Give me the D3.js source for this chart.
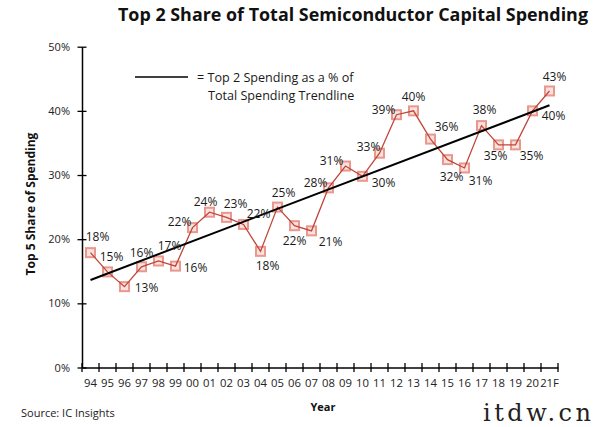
<!DOCTYPE html>
<html><head><meta charset="utf-8">
<script src="https://cdn.jsdelivr.net/npm/d3@7/dist/d3.min.js"></script>
<style>
body{margin:0;background:#fff;}
svg{display:block;font-family:"Open Sans",sans-serif;}
</style></head>
<body><svg id="c" width="597" height="427"></svg>
<script>
// ---- data ----
const years = ["94","95","96","97","98","99","00","01","02","03","04","05","06","07","08","09","10","11","12","13","14","15","16","17","18","19","20","21F"];
const shares = [17.9,14.9,12.6,15.7,16.6,15.8,21.8,24.2,23.4,22.3,18.1,25.0,22.1,21.3,28.0,31.4,29.8,33.4,39.4,40.0,35.6,32.4,31.1,37.7,34.7,34.7,40.0,43.1];
const yTicks = [0,10,20,30,40,50];
const titleText = "Top 2 Share of Total Semiconductor Capital Spending";
const yAxisTitle = "Top 5 Share of Spending";
const xAxisTitle = "Year";
const legendLines = ["= Top 2 Spending as a % of","Total Spending Trendline"];
const sourceText = "Source: IC Insights";

// ---- layout (label offsets relative to point, px) ----
const labelOffsets = [[7,-16],[4,-15],[22,1],[0,-14],[11,-15],[20,2],[-13,-6],[-4,-10],[9,-14],[15,-11],[7,14],[6,-14],[0,15],[19,11],[-13,-5],[-14,-5],[21,6],[-11,-6],[-13,-5],[0,-14],[16,-12],[4,17],[16,13],[3,-16],[-3,11],[16,11],[21,5],[5,-14]];

const svg = d3.select("#c");
const x = d3.scaleBand().domain(years).range([82,558]).padding(0);
const y = d3.scaleLinear().domain([0,50]).range([367.5,46.7]);
const cx = d => x(d) + x.bandwidth()/2;

// title
svg.append("text").attr("x",588).attr("y",21).attr("text-anchor","end")
  .attr("font-size",17.9).attr("font-weight",700).attr("fill","#111").text(titleText);

// y axis
const ya = svg.append("g").attr("transform","translate(82,0)")
  .call(d3.axisLeft(y).tickValues(yTicks).tickFormat(d=>d+"%").tickSizeInner(0).tickSizeOuter(0).tickPadding(12));
ya.select(".domain").attr("stroke","#000").attr("stroke-width",1.5);
ya.selectAll(".tick line").remove();
ya.selectAll(".tick").append("line").attr("x1",-4.5).attr("x2",4.5).attr("stroke","#000").attr("stroke-width",1.3);
ya.selectAll(".tick text").attr("font-size",11).attr("fill","#222").attr("font-family","Open Sans");

// x axis
const xa = svg.append("g").attr("transform","translate(0,367.5)")
  .call(d3.axisBottom(x).tickSize(0).tickPadding(11));
xa.select(".domain").attr("stroke","#000").attr("stroke-width",1.5);
xa.selectAll(".tick text").attr("font-size",11.3).attr("fill","#222").attr("font-family","Open Sans");
const boundaries = years.map(d=>x(d)).concat([x(years[years.length-1])+x.bandwidth()]);
xa.selectAll("line.bt").data(boundaries).join("line").attr("class","bt")
  .attr("x1",d=>d).attr("x2",d=>d).attr("y1",-4.5).attr("y2",4.5).attr("stroke","#000").attr("stroke-width",1.3);

// axis titles
svg.append("text").attr("transform","translate(35,204) rotate(-90)").attr("text-anchor","middle")
  .attr("font-size",12).attr("font-weight",700).attr("fill","#111").text(yAxisTitle);
svg.append("text").attr("x",323).attr("y",411).attr("text-anchor","middle")
  .attr("font-size",11).attr("font-weight",700).attr("fill","#111").text(xAxisTitle);

// source
svg.append("text").attr("x",21).attr("y",417).attr("font-size",11).attr("fill","#222").text(sourceText);

// trendline (least squares on the series)
const n = shares.length, idx = d3.range(n);
const mx = d3.mean(idx), my = d3.mean(shares);
const slope = d3.sum(idx,i=>(i-mx)*(shares[i]-my)) / d3.sum(idx,i=>(i-mx)*(i-mx));
const icpt = my - slope*mx;

// markers
svg.append("g").selectAll("rect").data(shares).join("rect")
  .attr("x",(d,i)=>cx(years[i])-4.5).attr("y",d=>y(d)-4.5).attr("width",9).attr("height",9)
  .attr("fill","rgba(240,170,160,0.35)").attr("stroke","#e8988c").attr("stroke-width",2);

// data line
svg.append("path").datum(shares)
  .attr("d", d3.line().x((d,i)=>cx(years[i])).y(d=>y(d)))
  .attr("fill","none").attr("stroke","#c0463a").attr("stroke-width",1.3);

// trend line
svg.append("line").attr("x1",cx(years[0])).attr("x2",cx(years[n-1]))
  .attr("y1",y(icpt)).attr("y2",y(icpt+slope*(n-1)))
  .attr("stroke","#000").attr("stroke-width",2);

// data labels
svg.append("g").selectAll("text").data(shares).join("text")
  .attr("x",(d,i)=>cx(years[i])+labelOffsets[i][0])
  .attr("y",(d,i)=>y(d)+labelOffsets[i][1])
  .attr("dy","0.35em").attr("text-anchor","middle")
  .attr("font-size",12).attr("fill","#1a1a1a")
  .text(d=>Math.round(d)+"%");

// legend
svg.append("line").attr("x1",135).attr("x2",188).attr("y1",77).attr("y2",77).attr("stroke","#000").attr("stroke-width",1.5);
svg.append("text").attr("x",197).attr("y",78).attr("dy","0.35em").attr("font-size",12.6).attr("fill","#1a1a1a").text(legendLines[0]);
svg.append("text").attr("x",208).attr("y",96).attr("dy","0.35em").attr("font-size",12.6).attr("fill","#1a1a1a").text(legendLines[1]);

// watermark
svg.append("text").attr("x",483).attr("y",421).attr("font-size",24).attr("font-family","DejaVu Serif, serif")
  .attr("letter-spacing",3.5).attr("fill","#222").text("itdw.cn");
</script></body></html>
